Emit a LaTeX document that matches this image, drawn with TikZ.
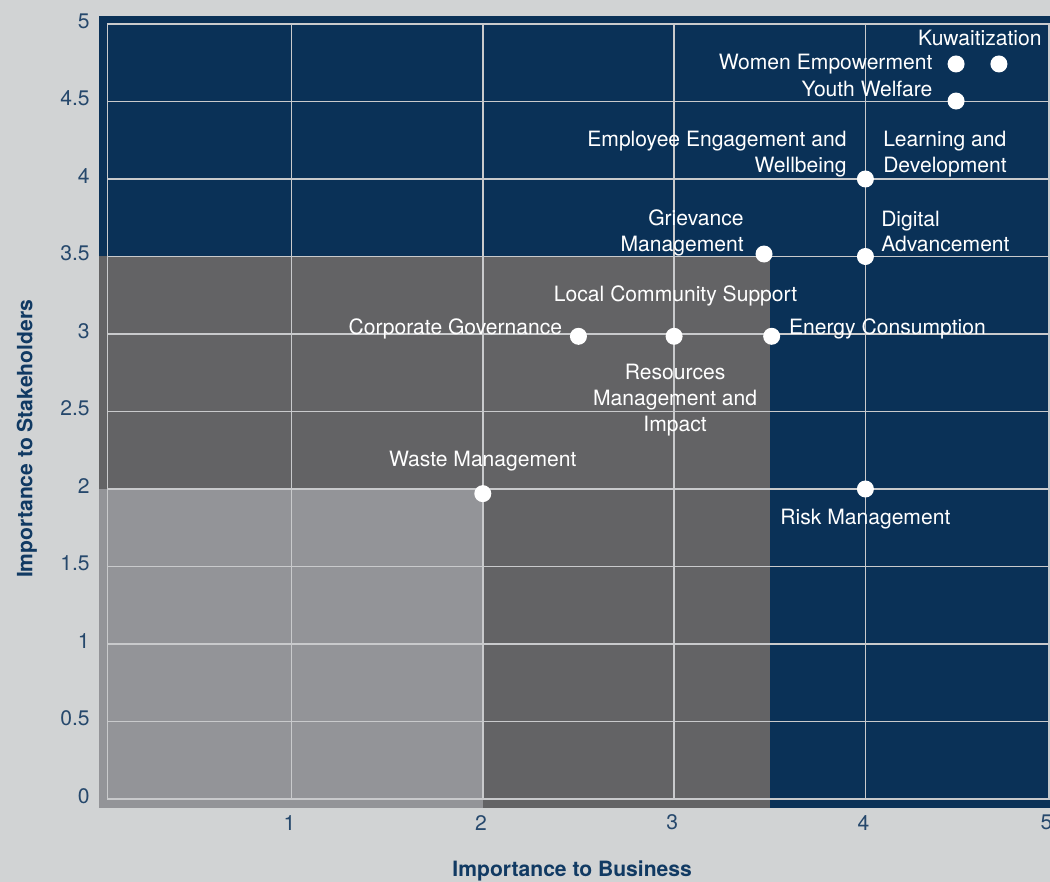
\documentclass[tikz,border=0pt]{standalone}
\usepackage{fontspec}
\setmainfont{TeX Gyre Heros}
\usetikzlibrary{positioning,calc}
\definecolor{navy}{HTML}{0A3157}
\definecolor{darkgrey}{HTML}{636365}
\definecolor{midgrey}{HTML}{939498}
\definecolor{bggrey}{HTML}{D1D3D4}
\definecolor{gridgrey}{HTML}{C9CACC}
\definecolor{ticktext}{HTML}{26486C}
\definecolor{titletext}{HTML}{113A63}
\tikzset{
  dots/.style={circle,fill=white,minimum size=3.4mm,inner sep=0pt},
  lbl/.style={text=white,inner sep=0pt,font=\fontsize{12}{14.7}\selectfont},
  ticklbl/.style={text=ticktext,inner sep=0pt,font=\fontsize{12}{14.4}\selectfont},
  axtitle/.style={text=titletext,inner sep=0pt,font=\bfseries\fontsize{12}{14.4}\selectfont},
  gridline/.style={gridgrey,line width=0.8pt}
}
\begin{document}
\begin{tikzpicture}[x=3.826cm,y=3.1cm]
  \useasboundingbox[fill=bggrey] (-0.5238,-0.5355) rectangle (4.965,5.1548);
  \fill[navy] (-0.006,-0.056) rectangle (5.1,5.052);
  \fill[darkgrey] (-0.006,-0.056) rectangle (3.5,3.5);
  \fill[midgrey] (-0.006,-0.056) rectangle (2,2);
  \foreach \y in {0.5,1,...,4.5} \draw[gridline] (0.039,\y) -- (4.96,\y);
  \foreach \x in {1,...,4} \draw[gridline] (\x,0) -- (\x,5);
  \draw[gridline] (0.039,0) rectangle (4.96,5);
  \foreach \y [count=\i] in {0,0.5,1,1.5,2,2.5,3,3.5,4,4.5,5}
    \node[ticklbl,anchor=east] (ytick\i) at (-0.053,\y+0.02) {\y};
  \foreach \x/\p in {1/1,2/2,3/3,4/4,5/4.957}
    \node[ticklbl] (xtick\x) at (\p-0.01,-0.152) {\x};
  \node[axtitle] (xtitle) at (2.467,-0.465) {Importance to Business};
  \node[axtitle,rotate=90] (ytitle) at (-0.383,2.323) {Importance to Stakeholders};

  \node[dots] (kuw) at (4.698,4.742) {};
  \node[dots] (wom) at (4.474,4.742) {};
  \node[dots] (yth) at (4.474,4.503) {};
  \node[dots] (eng) at (4,4) {};
  \node[dots] (grv) at (3.47,3.516) {};
  \node[dots] (dig) at (4,3.5) {};
  \node[dots] (cgv) at (2.5,2.985) {};
  \node[dots] (lcs) at (3,2.985) {};
  \node[dots] (enc) at (3.51,2.985) {};
  \node[dots] (wst) at (2,1.97) {};
  \node[dots] (rsk) at (4,2) {};

  \node[lbl,anchor=east] (kuw-l) at ($(kuw)+(0.86cm,0.52cm)$) {Kuwaitization};
  \node[lbl,left=0.29cm of wom] (wom-l) {Women Empowerment};
  \node[lbl,left=0.29cm of yth,yshift=0.24cm] (yth-l) {Youth Welfare};
  \node[lbl,align=right,anchor=east] (eng-l) at ($(eng)+(-0.37cm,0.5cm)$) {Employee Engagement and\\Wellbeing};
  \node[lbl,align=left,anchor=west] (lrn-l) at ($(eng)+(0.35cm,0.5cm)$) {Learning and\\Development};
  \node[lbl,align=right,anchor=east] (grv-l) at ($(grv)+(-0.4cm,0.42cm)$) {Grievance\\Management};
  \node[lbl,align=left,anchor=west] (dig-l) at ($(dig)+(0.31cm,0.5cm)$) {Digital\\Advancement};
  \node[lbl] (lcs-l) at ($(lcs)+(0.03cm,0.8cm)$) {Local Community Support};
  \node[lbl,align=center] (res-l) at ($(lcs)+(0.02cm,-1.27cm)$) {Resources\\Management and\\Impact};
  \node[lbl,anchor=east] (cgv-l) at ($(cgv)+(-0.32cm,0.15cm)$) {Corporate Governance};
  \node[lbl,anchor=west] (enc-l) at ($(enc)+(0.34cm,0.15cm)$) {Energy Consumption};
  \node[lbl] (wst-l) at ($(wst)+(0cm,0.66cm)$) {Waste Management};
  \node[lbl] (rsk-l) at ($(rsk)+(0cm,-0.6cm)$) {Risk Management};
\end{tikzpicture}
\end{document}
